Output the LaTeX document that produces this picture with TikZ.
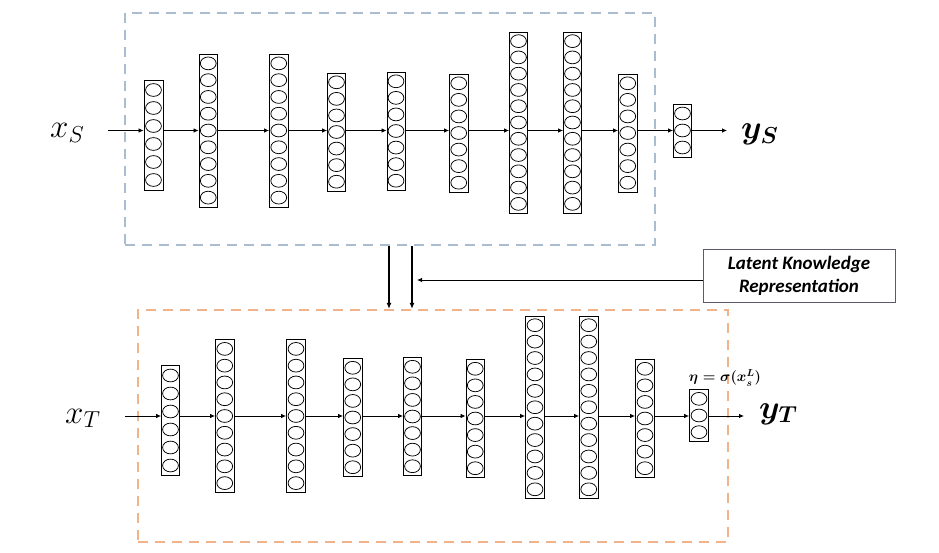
\RequirePackage{fix-cm}
\documentclass[tikz,border=0pt]{standalone}
\usepackage{amsmath}
\usepackage{fontspec}
\newfontfamily\carl{Carlito}
\usetikzlibrary{arrows.meta,calc}
\definecolor{topc}{HTML}{AABCD0}
\definecolor{botc}{HTML}{F1B48A}
\definecolor{lkc}{HTML}{5E5870}
\newcommand\mklayer[6]{%
  \node[layerbox, minimum width={(#3-#2)*1pt}, minimum height={(#5-#4)*1pt}] (#1) at ({(#2+#3)/2},{(#4+#5)/2}) {};
  \pgfmathsetmacro\mysp{(#5-#4-2)/#6}
  \foreach \i in {1,...,#6}{\draw[neuron] ({(#2+#3)/2},{#4+1+\mysp*(\i-0.5)}) ellipse [x radius=7.9pt, y radius=6.4pt];}
}
\newcommand\etalabel{$\boldsymbol{\eta=\sigma(x_s^L)}$}
\begin{document}
\begin{tikzpicture}[x=1pt,y=-1pt,
  layerbox/.style={draw=black, line width=0.9pt, inner sep=0pt, fill=white},
  neuron/.style={draw=black, line width=0.75pt},
  flow/.style={-{Latex[length=5pt,width=4.5pt]}, line width=0.8pt},
  vflow/.style={-{Latex[length=6pt,width=5pt]}, line width=1.4pt},
  topframe/.style={draw=topc, dash pattern=on 10pt off 7pt, line width=2.2pt, inner sep=0pt},
  botframe/.style={draw=botc, dash pattern=on 10pt off 7pt, line width=2.2pt, inner sep=0pt},
  biglab/.style={inner sep=0pt, font=\fontsize{33}{36}\selectfont},
  smalllab/.style={inner sep=0pt, font=\fontsize{14.5}{16}\selectfont},
  lkbox/.style={draw=lkc, line width=0.9pt, fill=white, align=center, inner sep=0pt,
     font=\carl\bfseries\itshape\fontsize{19}{23}\selectfont}
]
\useasboundingbox (0,0) rectangle (939,553);
% frames
\node[topframe, minimum width=530pt, minimum height=232pt] (topbox) at (390,129) {};
\node[botframe, minimum width=590pt, minimum height=232pt] (botbox) at (433,426) {};
% top network
\mklayer{t1}{144}{163}{80}{190}{6}
\mklayer{t2}{199}{217.5}{54}{207}{9}
\mklayer{t3}{269.5}{288}{54}{207}{9}
\mklayer{t4}{327.5}{345.5}{73}{191}{7}
\mklayer{t5}{387}{405}{72}{190}{7}
\mklayer{t6}{449.5}{468}{74}{192}{7}
\mklayer{t7}{509.5}{527.5}{32}{213}{11}
\mklayer{t8}{563.5}{581.5}{32}{213}{11}
\mklayer{t9}{618.5}{637}{74}{192}{7}
\mklayer{t10}{673.5}{691.5}{104}{157}{3}
% bottom network
\mklayer{b1}{161.5}{179.5}{365.5}{475.5}{6}
\mklayer{b2}{215.5}{234}{339.5}{492.5}{9}
\mklayer{b3}{286.5}{305.5}{339.5}{492.5}{9}
\mklayer{b4}{343.5}{362}{358.5}{476.5}{7}
\mklayer{b5}{403.5}{421.5}{357.5}{475.5}{7}
\mklayer{b6}{466}{484.5}{359.5}{477.5}{7}
\mklayer{b7}{525.5}{544.5}{316}{498.5}{11}
\mklayer{b8}{579.5}{598}{316}{498.5}{11}
\mklayer{b9}{635.5}{654.5}{359.5}{477.5}{7}
\mklayer{b10}{689.5}{708.5}{389.5}{441.5}{3}
% labels
\node[biglab, anchor=base west] (xs) at (50,138) {$x_S$};
\node[biglab, anchor=base west] (ys) at (741,139) {$\boldsymbol{y_S}$};
\node[biglab, anchor=base west] (xt) at (65,423) {$x_T$};
\node[biglab, anchor=base west] (yt) at (759,418) {$\boldsymbol{y_T}$};
\node[smalllab] (etal) at (725,378) {\etalabel};
\node[lkbox, minimum width=192pt, minimum height=53pt] (lk) at (799,275.5) {Latent Knowledge\\Representation};
% coordinates
\coordinate (arowt) at (0,130.5);
\coordinate (arowb) at (0,416);
\coordinate (xsend) at (108,130.5);
\coordinate (ysend) at (727,130.5);
\coordinate (xtend) at (125,416);
\coordinate (ytend) at (744,416);
\coordinate (va) at (389,280);
\coordinate (vb) at (412,280);
\coordinate (lktip) at (417,280);
% top arrows
\draw[flow] (xsend) -- (t1.west |- arowt);
\foreach \a/\b in {t1/t2,t2/t3,t3/t4,t4/t5,t5/t6,t6/t7,t7/t8,t8/t9,t9/t10}
  \draw[flow] (\a.east |- arowt) -- (\b.west |- arowt);
\draw[flow] (t10.east |- arowt) -- (ysend);
% bottom arrows
\draw[flow] (xtend) -- (b1.west |- arowb);
\foreach \a/\b in {b1/b2,b2/b3,b3/b4,b4/b5,b5/b6,b6/b7,b7/b8,b8/b9,b9/b10}
  \draw[flow] (\a.east |- arowb) -- (\b.west |- arowb);
\draw[flow] (b10.east |- arowb) -- (ytend);
% knowledge transfer
\draw[vflow] (topbox.south -| va) -- (botbox.north -| va);
\draw[vflow] (topbox.south -| vb) -- (botbox.north -| vb);
\draw[flow] (lk.west |- lktip) -- (lktip);
\end{tikzpicture}
\end{document}
